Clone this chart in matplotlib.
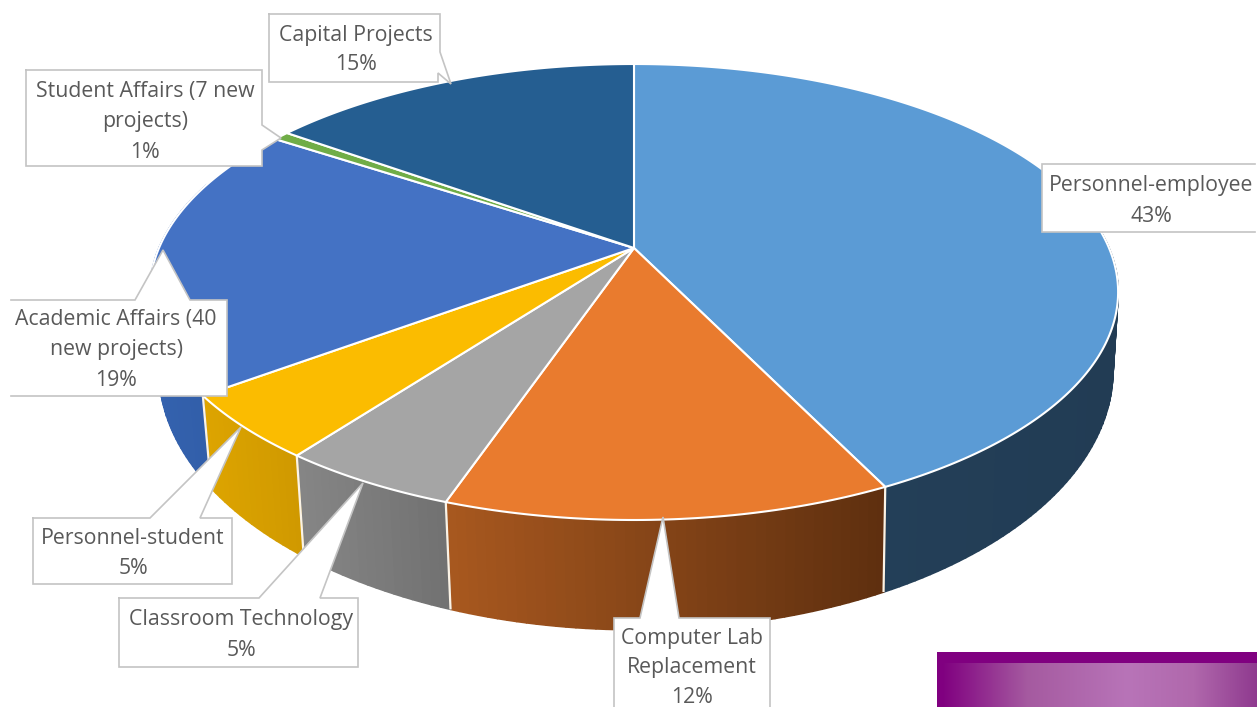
import numpy as np
import matplotlib
matplotlib.use("Agg")
import matplotlib.pyplot as plt
from matplotlib.patches import Polygon
from matplotlib.collections import PolyCollection
from matplotlib.colors import to_rgb, LinearSegmentedColormap

# ---- data (clockwise from 12 o'clock) ----
categories = ["Personnel-employee", "Computer Lab\nReplacement", "Classroom Technology",
              "Personnel-student", "Academic Affairs (40\nnew projects)",
              "Student Affairs (7 new\nprojects)", "Capital Projects"]
values = [42.8, 12.45, 5.0, 4.6, 19.4, 0.65, 15.1]
value_labels = ["43%", "12%", "5%", "5%", "19%", "1%", "15%"]

top_colors = ["#5B9BD5", "#E97B2E", "#A5A5A5", "#FBBC00", "#4472C4", "#70AD47", "#255E91"]
side_left = ["#24425C", "#A8581F", "#868686", "#DDA400", "#3462AE", "#43682A", "#163857"]
side_right = ["#223C54", "#5E2F0F", "#717171", "#CF9900", "#2F5AA3", "#43682A", "#163857"]

# ---- callouts: box outline, text centre, which outline is open ----
callouts = {
    "Capital Projects": dict(
        pts=[(269, 14), (440, 14), (440, 52), (451, 84), (438, 73), (438, 82), (269, 82)],
        cx=356, y0=35, closed=True),
    "Student Affairs (7 new\nprojects)": dict(
        pts=[(26, 70), (262, 70), (262, 125), (281, 138), (262, 150), (262, 166), (26, 166)],
        cx=145, y0=92, closed=True),
    "Academic Affairs (40\nnew projects)": dict(
        pts=[(11, 300), (135, 300), (163, 250), (190, 300), (227, 300), (227, 396), (11, 396)],
        cx=116, y0=320, closed=False),
    "Personnel-student": dict(
        pts=[(33, 518), (150, 518), (241, 427), (200, 518), (232, 518), (232, 584), (33, 584)],
        cx=133, y0=539, closed=True),
    "Classroom Technology": dict(
        pts=[(119, 598), (259, 598), (363, 483), (320, 598), (358, 598), (358, 667), (119, 667)],
        cx=241, y0=620, closed=True),
    "Computer Lab\nReplacement": dict(
        pts=[(614, 712), (614, 618), (640, 618), (663, 517), (679, 618), (770, 618), (770, 712)],
        cx=692, y0=638.5, closed=False),
    "Personnel-employee": dict(
        pts=[(1255, 164), (1042, 164), (1042, 232), (1255, 232)],
        cx=1151, y0=186, closed=False),
}

W, H = 1257, 707
fig = plt.figure(figsize=(W / 100, H / 100), dpi=100, facecolor="white")
ax = fig.add_axes([0, 0, 1, 1])


def top_xy(theta):
    u, v = np.sin(theta), -np.cos(theta)
    w = 1 - 0.193 * v
    return 634 + 475 * u / w, 248 + 219.5 * v / w


def bottom_xy(theta):
    u, v = np.sin(theta), -np.cos(theta)
    w = 1 - 0.193 * v
    return 636 + 468 * u / w, 320 + 250 * v / w


edges = np.radians(np.concatenate([[0], np.cumsum(values)]) / sum(values) * 360)
visible = lambda t: -np.cos(t) > -0.3   # the far wall lies behind the top face

# side wall
for k in range(len(values)):
    th = np.linspace(edges[k], edges[k + 1], max(4, int((edges[k + 1] - edges[k]) * 60)))
    xt, yt = top_xy(th)
    xb, yb = bottom_xy(th)
    polys, cols = [], []
    lo, hi = xt.min(), xt.max()
    c0, c1 = np.array(to_rgb(side_left[k])), np.array(to_rgb(side_right[k]))
    for j in range(len(th) - 1):
        if not visible(th[j]):
            continue
        polys.append([(xt[j], yt[j]), (xt[j + 1], yt[j + 1]), (xb[j + 1], yb[j + 1]), (xb[j], yb[j])])
        f = ((xt[j] + xt[j + 1]) / 2 - lo) / max(hi - lo, 1)
        cols.append(c0 + (c1 - c0) * f)
    if polys:
        ax.add_collection(PolyCollection(polys, facecolors=cols, edgecolors=cols, linewidths=1.2, zorder=2))
for e in edges:
    if visible(e):
        xa, ya = top_xy(e)
        xb, yb = bottom_xy(e)
        ax.plot([xa, xb], [ya, yb], color="#FBF3E6", lw=1.6, zorder=3, solid_capstyle="butt")

# top face
cx, cy = 634, 248
for k in range(len(values)):
    th = np.linspace(edges[k], edges[k + 1], max(4, int((edges[k + 1] - edges[k]) * 80)))
    xt, yt = top_xy(th)
    pts = np.column_stack([np.r_[cx, xt], np.r_[cy, yt]])
    ax.add_patch(Polygon(pts, closed=True, facecolor=top_colors[k], edgecolor="#FFFFFF",
                         lw=1.5, joinstyle="round", zorder=4))

# callouts
for name, val in zip(categories, value_labels):
    c = callouts[name]
    ax.add_patch(Polygon(c["pts"], closed=True, facecolor="white", edgecolor="none", zorder=6))
    px, py = zip(*(c["pts"] + (c["pts"][:1] if c["closed"] else [])))
    ax.plot(px, py, color="#C4C4C4", lw=1.2, zorder=7, solid_joinstyle="miter")
    for n, line in enumerate(name.split("\n") + [val]):
        ax.text(c["cx"], c["y0"] + 29.5 * n if "Computer" in name else c["y0"] + 30 * n, line,
                ha="center", va="center", fontsize=15.3,
                family="Open Sans", color="#595959", zorder=8)

# purple band in the corner
ax.add_patch(Polygon([(937, 652), (1257, 652), (1257, 707), (937, 707)], closed=True,
                     facecolor="#800080", edgecolor="none", zorder=1))
cmap = LinearSegmentedColormap.from_list(
    "band", [(0, "#800080"), (0.27, "#A55AA0"), (0.59, "#B874B8"), (0.8, "#B068AC"), (1, "#8F3A8F")])
ax.imshow(np.linspace(0, 1, 512)[None, :], cmap=cmap, extent=(942, 1257, 707, 663),
          aspect="auto", zorder=1.5, interpolation="bilinear")

ax.set_xlim(0, W)
ax.set_ylim(H, 0)
ax.axis("off")
fig.savefig("out.png", dpi=100, facecolor="white")
